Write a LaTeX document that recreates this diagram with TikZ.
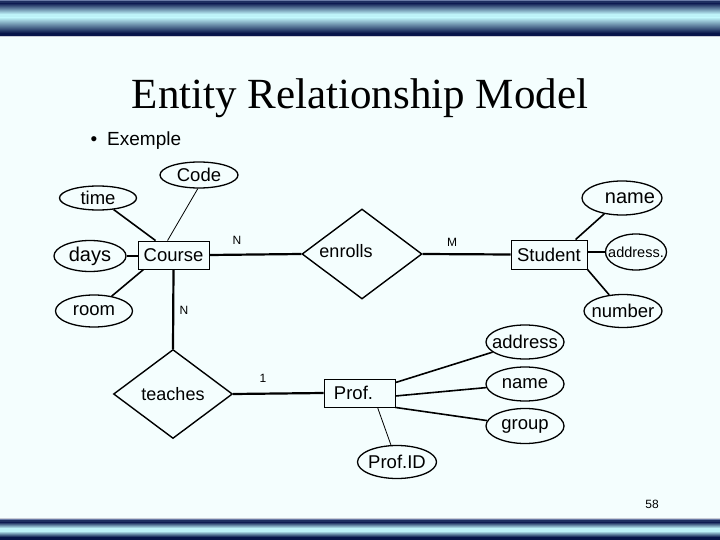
\documentclass[tikz,border=0pt]{standalone}
\usepackage{fontspec}
\setmainfont{Liberation Sans}
\newfontfamily\titlefont{Liberation Serif}
\usetikzlibrary{shapes.geometric}

\definecolor{bgc}{HTML}{F4FEFE}
\definecolor{barG}{HTML}{6A7AA6}
\definecolor{barN}{HTML}{1E2E60}
\definecolor{barC}{HTML}{BDF2F8}
\definecolor{barD}{HTML}{07154A}
\definecolor{barL}{HTML}{C8CCD6}

\newcommand{\ez}[1]{\makebox[0pt]{#1}}

\begin{document}
\begin{tikzpicture}[x=1pt,y=-1pt,
  attr/.style={draw, ellipse, line width=1.3pt, inner sep=0pt, font=\fontsize{18.5}{18.5}\selectfont},
  ent/.style={draw, rectangle, line width=0.9pt, inner sep=0pt, font=\fontsize{18.5}{18.5}\selectfont},
  rel/.style={draw, diamond, line width=1.4pt, inner sep=0pt, minimum width=120pt, minimum height=90pt, font=\fontsize{18}{18}\selectfont},
  thickln/.style={line width=2.2pt},
  attrln/.style={line width=1.6pt},
  thinln/.style={line width=0.8pt},
  card/.style={font=\fontsize{12}{12}\selectfont, inner sep=0pt}
]
\useasboundingbox (0,0) rectangle (720,540);
\fill[bgc] (0,0) rectangle (720,540);

% top bar
\fill[barG] (0,0) rectangle (720,1.5);
\fill[barN] (0,1.5) rectangle (720,4);
\shade[top color=barN, bottom color=barC] (0,4) rectangle (720,14);
\fill[barC] (0,14) rectangle (720,17.5);
\shade[top color=barC, bottom color=barD] (0,17.5) rectangle (720,33);
\fill[barD] (0,33) rectangle (720,36);
\fill[barL] (0,36) rectangle (720,37.5);

% bottom bar
\fill[barL] (0,517.5) rectangle (720,519);
\fill[barG] (0,519) rectangle (720,520);
\fill[barN] (0,520) rectangle (720,522.5);
\shade[top color=barN, bottom color=barC] (0,522.5) rectangle (720,528);
\fill[barC] (0,528) rectangle (720,531);
\shade[top color=barC, bottom color=barD] (0,531) rectangle (720,537);
\fill[barD] (0,537) rectangle (720,540);

% title
\node[anchor=base, inner sep=0pt, font=\titlefont\fontsize{43}{43}\selectfont] (title) at (360,109) {Entity Relationship Model};
\node[anchor=base, inner sep=0pt, font=\fontsize{19}{19}\selectfont] (bullet) at (94,146) {•};
\node[anchor=base west, inner sep=0pt, font=\fontsize{19}{19}\selectfont] (exemple) at (107,146) {Exemple};

% entities
\node[ent, minimum width=71pt, minimum height=28pt] (course) at (173.5,255) {Course};
\node[ent, minimum width=76pt, minimum height=29pt] (student) at (549,254.5) {Student};
\node[ent, minimum width=71pt, minimum height=28pt] (prof) at (359.5,393) {Prof.\hspace*{12pt}};

% relationships
\node[rel, label={[font=\fontsize{18}{18}\selectfont, xshift=-16pt, yshift=3pt]center:enrolls}] (enrolls) at (362,254) {};
\node[rel, minimum width=119pt, minimum height=89pt] (teaches) at (173,394) {teaches};

% course attributes
\node[attr, minimum width=78pt, minimum height=26pt] (code) at (199,175) {\ez{Code}};
\node[attr, minimum width=77pt, minimum height=24pt] (time) at (98,198) {\ez{time}};
\node[attr, minimum width=72pt, minimum height=31pt, font=\fontsize{20}{20}\selectfont] (days) at (90,256) {\ez{days}};
\node[attr, minimum width=77pt, minimum height=32pt] (room) at (94,311) {\ez{room}};

% student attributes
\node[attr, minimum width=80pt, minimum height=34pt, font=\fontsize{20}{20}\selectfont] (sname) at (622,198) {\ez{\hspace*{16pt}name}};
\node[attr, minimum width=61pt, minimum height=36pt, font=\fontsize{14.5}{14.5}\selectfont] (saddr) at (636,252) {\ez{address.}};
\node[attr, minimum width=78pt, minimum height=33pt] (snum) at (623,311) {\ez{number}};

% prof attributes
\node[attr, minimum width=78pt, minimum height=34pt] (paddr) at (525,342) {\ez{address}};
\node[attr, minimum width=78pt, minimum height=34pt] (pname) at (525,384) {\ez{name}};
\node[attr, minimum width=78pt, minimum height=35pt] (pgroup) at (525,426) {\ez{group}};
\node[attr, minimum width=79pt, minimum height=33pt] (pid) at (397,462) {\ez{Prof.ID}};

% relationship connectors
\draw[thickln] (course.east) -- (enrolls.west);
\draw[thickln] (enrolls.east) -- (student.west);
\draw[thickln] (course.south) -- (teaches.north);
\draw[thickln] (teaches.east) -- (prof.west);

% cardinalities
\node[card] (n1) at (237,240) {N};
\node[card] (m1) at (452,242) {M};
\node[card] (n2) at (184,310) {N};
\node[card] (one) at (263,378) {1};

% attribute connectors
\draw[thinln] (code.265) -- ([xshift=30pt]course.north west);
\draw[attrln] (time) -- ([xshift=18pt]course.north west);
\draw[attrln] (days.east) -- (course.west |- days.east);
\draw[attrln] (room) -- ([xshift=6pt]course.south west);

\draw[attrln] ([xshift=65pt]student.north west) -- (sname);
\draw[attrln] (student.east |- saddr.west) -- (saddr.west);
\draw[attrln] (student.south east) -- (snum);

\draw[attrln] ([yshift=-4pt]prof.north east) -- (paddr);
\draw[attrln] ([yshift=-3pt]prof.east) -- (pname);
\draw[attrln] (prof.south east) -- (pgroup);
\draw[thinln] ([xshift=54pt]prof.south west) -- (pid);

% page number
\node[font=\fontsize{12}{12}\selectfont, inner sep=0pt] (page) at (652,504) {58};
\end{tikzpicture}
\end{document}
